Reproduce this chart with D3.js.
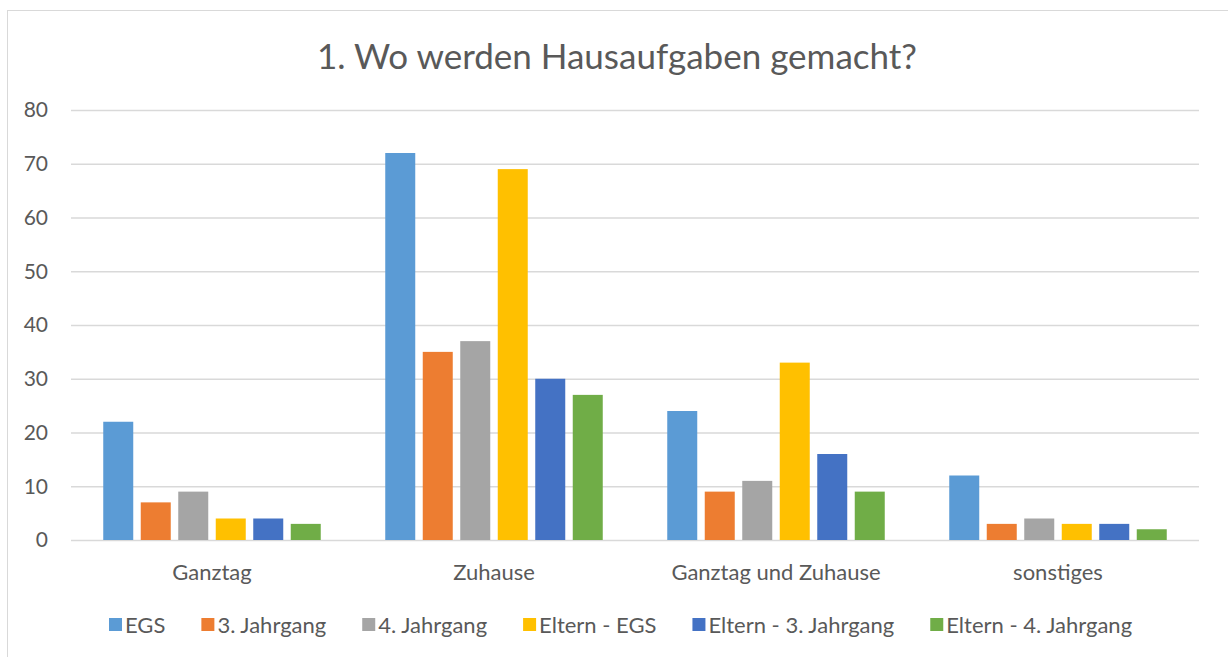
<!DOCTYPE html>
<html>
<head>
<meta charset="utf-8">
<script src="https://cdn.jsdelivr.net/npm/d3@7"></script>
<style>
  body { margin: 0; background: #fff; }
  text { font-family: Lato, "Open Sans", sans-serif; fill: #595959; }
</style>
</head>
<body>
<svg id="chart" width="1228" height="657"></svg>
<script>
'use strict';
// chart data
const categories = ["Ganztag", "Zuhause", "Ganztag und Zuhause", "sonstiges"];
const seriesNames = ["EGS", "3. Jahrgang", "4. Jahrgang", "Eltern - EGS", "Eltern - 3. Jahrgang", "Eltern - 4. Jahrgang"];
const egs      = [22, 72, 24, 12];
const jg3      = [7, 35, 9, 3];
const jg4      = [9, 37, 11, 4];
const elternEgs = [4, 69, 33, 3];
const eltern3  = [4, 30, 16, 3];
const eltern4  = [3, 27, 9, 2];
const yTicks   = [0, 10, 20, 30, 40, 50, 60, 70, 80];
const colors   = ["#5B9BD5", "#ED7D31", "#A5A5A5", "#FFC000", "#4472C4", "#70AD47"];

const seriesValues = [egs, jg3, jg4, elternEgs, eltern3, eltern4];

const svg = d3.select("#chart");
const W = 1228, H = 657;
const plotLeft = 71, plotRight = 1199, plotTop = 110, plotBottom = 540;

// outer chart border
svg.append("rect")
  .attr("x", 7.5).attr("y", 10.5)
  .attr("width", W).attr("height", H)
  .attr("fill", "none").attr("stroke", "#d9d9d9");

// title
svg.append("text")
  .attr("x", 617).attr("y", 69)
  .attr("text-anchor", "middle")
  .style("font-size", "35px")
  .text("1. Wo werden Hausaufgaben gemacht?");

const x = d3.scaleBand().domain(categories).range([plotLeft, plotRight]);
const y = d3.scaleLinear().domain([0, 80]).range([plotBottom, plotTop]);

// gridlines
svg.append("g")
  .selectAll("line").data(yTicks).join("line")
  .attr("x1", plotLeft).attr("x2", plotRight)
  .attr("y1", d => y(d) + 0.5).attr("y2", d => y(d) + 0.5)
  .attr("stroke", "#d9d9d9").attr("stroke-width", 1.3);

// y labels
svg.append("g")
  .selectAll("text").data(yTicks).join("text")
  .attr("x", 48).attr("y", d => y(d))
  .attr("dy", "0.35em")
  .attr("text-anchor", "end")
  .style("font-size", "21px")
  .text(d => d);

// bars
const barW = 30, step = 37.5;
const groupW = step * 5 + barW;
const g = svg.append("g");
seriesValues.forEach((vals, si) => {
  g.append("g")
    .selectAll("rect").data(vals).join("rect")
    .attr("x", (d, i) => x(categories[i]) + x.bandwidth() / 2 - groupW / 2 + si * step)
    .attr("y", d => y(d))
    .attr("width", barW)
    .attr("height", d => y(0) - y(d))
    .attr("fill", colors[si]);
});

// category labels
svg.append("g")
  .selectAll("text").data(categories).join("text")
  .attr("x", d => x(d) + x.bandwidth() / 2)
  .attr("y", 572)
  .attr("dy", "0.35em")
  .attr("text-anchor", "middle")
  .style("font-size", "22px")
  .text(d => d);

// legend
const legend = svg.append("g");
let lx = 109;
seriesNames.forEach((name, i) => {
  legend.append("rect")
    .attr("x", lx).attr("y", 618)
    .attr("width", 13).attr("height", 13)
    .attr("fill", colors[i]);
  const t = legend.append("text")
    .attr("x", lx + 16).attr("y", 625)
    .attr("dy", "0.35em")
    .style("font-size", "22px")
    .text(name);
  lx += 16 + t.node().getComputedTextLength() + 36;
});
</script>
</body>
</html>
